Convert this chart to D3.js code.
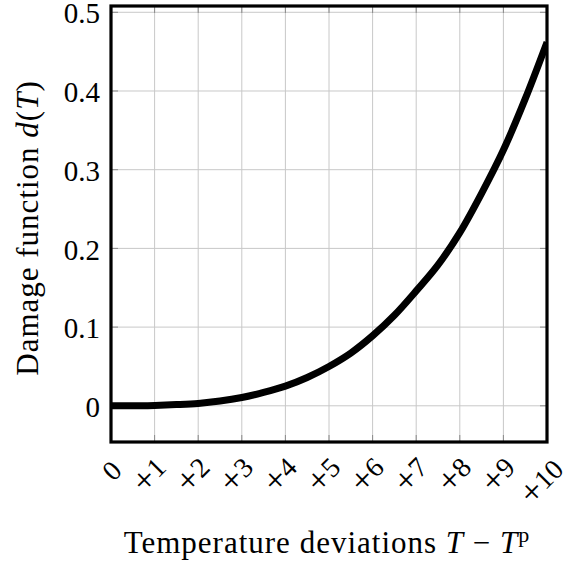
<!DOCTYPE html>
<html>
<head>
<meta charset="utf-8">
<script src="https://cdn.jsdelivr.net/npm/d3@7"></script>
<style>
  html, body { margin: 0; padding: 0; background: #fff; }
  svg text { font-family: "Liberation Serif", "DejaVu Serif", serif; }
</style>
</head>
<body>
<div id="chart"></div>
<script>
// values
const tempDev = [0, 0.5, 1, 1.5, 2, 2.5, 3, 3.5, 4, 4.5, 5, 5.5, 6, 6.5, 7, 7.5, 8, 8.5, 9, 9.5, 10];
const damage = [0, 0.0000, 0.0005, 0.0015, 0.003, 0.006, 0.0105, 0.017, 0.025, 0.036, 0.05,
  0.067, 0.089, 0.115, 0.146, 0.179, 0.220, 0.270, 0.325, 0.390, 0.462];

const xTicks = [0, 1, 2, 3, 4, 5, 6, 7, 8, 9, 10];
const xTickLabels = ['0', '+1', '+2', '+3', '+4', '+5', '+6', '+7', '+8', '+9', '+10'];
const yTicks = [0, 0.1, 0.2, 0.3, 0.4, 0.5];
const yTickLabels = ['0', '0.1', '0.2', '0.3', '0.4', '0.5'];

class DamageChart {
  constructor(selector) {
    this.selector = selector;
    this.width = 574;
    this.height = 564;
    this.plot = { left: 111, right: 547, top: 6, bottom: 442 };
    this.initChart();
  }

  initChart() {
    this.svg = d3.select(this.selector)
      .append('svg')
      .attr('width', this.width)
      .attr('height', this.height)
      .attr('font-family', '"Liberation Serif", "DejaVu Serif", serif');

    // y range padded by 10% of the data range, like pgfplots
    this.x = d3.scaleLinear().domain([0, 10]).range([this.plot.left, this.plot.right]);
    this.y = d3.scaleLinear().domain([-0.046, 0.508]).range([this.plot.bottom, this.plot.top]);

    this.svg.append('clipPath')
      .attr('id', 'plot-clip')
      .append('rect')
      .attr('x', this.plot.left)
      .attr('y', this.plot.top)
      .attr('width', this.plot.right - this.plot.left)
      .attr('height', this.plot.bottom - this.plot.top);
  }

  draw() {
    const p = this.plot;
    const g = this.svg.append('g');

    // grid
    g.selectAll('.vgrid')
      .data(xTicks.slice(1, -1))
      .enter()
      .append('line')
      .attr('x1', d => this.x(d)).attr('x2', d => this.x(d))
      .attr('y1', p.top).attr('y2', p.bottom)
      .style('stroke', '#c8c8c8')
      .style('stroke-width', 1);

    g.selectAll('.hgrid')
      .data(yTicks)
      .enter()
      .append('line')
      .attr('x1', p.left).attr('x2', p.right)
      .attr('y1', d => this.y(d)).attr('y2', d => this.y(d))
      .style('stroke', '#c8c8c8')
      .style('stroke-width', 1);

    // small inner ticks on all four sides
    const tk = 7;
    xTicks.slice(1, -1).forEach(d => {
      [[p.bottom, p.bottom - tk], [p.top, p.top + tk]].forEach(([a, b]) => {
        g.append('line')
          .attr('x1', this.x(d)).attr('x2', this.x(d))
          .attr('y1', a).attr('y2', b)
          .style('stroke', '#8a8a8a')
          .style('stroke-width', 1);
      });
    });
    yTicks.forEach(d => {
      [[p.left, p.left + tk], [p.right, p.right - tk]].forEach(([a, b]) => {
        g.append('line')
          .attr('x1', a).attr('x2', b)
          .attr('y1', this.y(d)).attr('y2', this.y(d))
          .style('stroke', '#8a8a8a')
          .style('stroke-width', 1);
      });
    });

    // damage curve
    const line = d3.line()
      .x((d, i) => this.x(tempDev[i]))
      .y(d => this.y(d))
      .curve(d3.curveMonotoneX);

    g.append('path')
      .datum(damage)
      .attr('d', line)
      .attr('clip-path', 'url(#plot-clip)')
      .style('fill', 'none')
      .style('stroke', '#000')
      .style('stroke-width', 7);

    // frame
    g.append('rect')
      .attr('x', p.left).attr('y', p.top)
      .attr('width', p.right - p.left)
      .attr('height', p.bottom - p.top)
      .style('fill', 'none')
      .style('stroke', '#000')
      .style('stroke-width', 3.2);

    // y tick labels
    g.selectAll('.ylab')
      .data(yTicks)
      .enter()
      .append('text')
      .attr('x', 100)
      .attr('y', d => this.y(d) + 1)
      .attr('dy', '0.35em')
      .attr('text-anchor', 'end')
      .style('font-size', '29px')
      .text((d, i) => yTickLabels[i]);

    // x tick labels, rotated 45deg; the plus sign is drawn larger like TeX's
    const xl = g.selectAll('.xlab')
      .data(xTicks)
      .enter()
      .append('text')
      .attr('text-anchor', 'middle')
      .attr('dy', '0.32em')
      .style('font-size', '28px');
    xl.each(function (d, i) {
      const s = xTickLabels[i];
      const t = d3.select(this);
      if (s[0] === '+') {
        t.append('tspan').style('font-size', '36px').attr('dy', 3).text('+');
        t.append('tspan').attr('dy', -3).text(s.slice(1));
      } else {
        t.text(s);
      }
    });
    const xs = this.x;
    xl.attr('transform', function (d) {
      const len = this.getComputedTextLength();
      return `translate(${xs(d) + 1}, ${464 + 0.5 * len}) rotate(-45)`;
    });

    // axis titles
    const xt = g.append('text')
      .attr('x', 327)
      .attr('y', 553)
      .attr('text-anchor', 'middle')
      .style('font-size', '31px')
      .style('letter-spacing', '1px');
    xt.append('tspan').text('Temperature deviations ');
    xt.append('tspan').style('font-style', 'italic').text('T');
    xt.append('tspan').text(' \u2212 ');
    xt.append('tspan').style('font-style', 'italic').text('T');
    xt.append('tspan').attr('dy', -11).style('font-size', '22px').text('p');

    const yt = g.append('text')
      .attr('transform', 'translate(38, 228) rotate(-90)')
      .attr('text-anchor', 'middle')
      .style('font-size', '31px')
      .style('letter-spacing', '1px');
    yt.append('tspan').text('Damage function ');
    yt.append('tspan').style('font-style', 'italic').text('d');
    yt.append('tspan').text('(');
    yt.append('tspan').style('font-style', 'italic').text('T');
    yt.append('tspan').text(')');
  }
}

const chart = new DamageChart('#chart');
chart.draw();
</script>
</body>
</html>
